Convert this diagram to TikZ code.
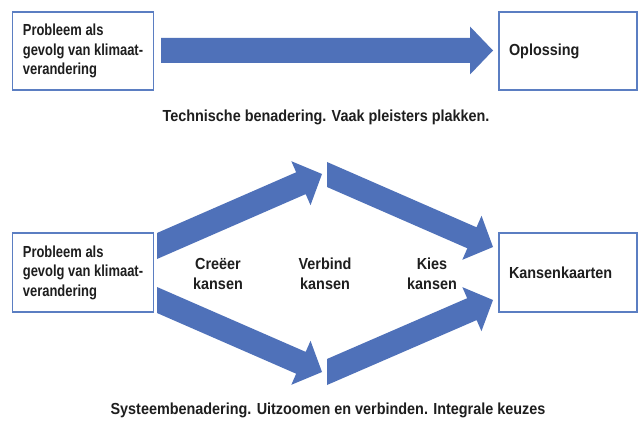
\documentclass[tikz,border=0pt]{standalone}
\usepackage{fontspec}
\setmainfont[FakeStretch=0.9]{Liberation Sans}
\newfontfamily\narrowfont[FakeStretch=0.81]{Liberation Sans}
\usetikzlibrary{calc}
\definecolor{arrowblue}{HTML}{4F71B9}
\definecolor{boxblue}{HTML}{5B7EC2}
\definecolor{txt}{HTML}{1E1E1E}
\newcommand\blockarrow[3]{% #1 tail top, #2 tail bottom, #3 tip
  \coordinate (fa-c) at ($(#1)!0.5!(#2)$);
  \coordinate (fa-b) at ($(#3)!23pt!(fa-c)$);
  \coordinate (fa-w1) at ($(fa-b)!24pt!90:(#3)$);
  \coordinate (fa-w2) at ($(fa-b)!24pt!-90:(#3)$);
  \fill[arrowblue] (#1) -- ($(fa-b)!(#1)!(fa-w1)$) -- (fa-w1) -- (#3) -- (fa-w2)
    -- ($(fa-b)!(#2)!(fa-w2)$) -- (#2) -- cycle;
}
\begin{document}
\begin{tikzpicture}[x=1pt,y=-1pt,
  txtfont/.style={font=\bfseries\fontsize{16}{19.5}\selectfont, text=txt},
  box/.style={draw=boxblue, line width=1.2pt, fill=white, minimum width=138pt,
    minimum height=78pt, inner xsep=10pt, inner ysep=6pt, align=left, txtfont},
  probfont/.style={font=\narrowfont\bfseries\fontsize{16}{19.5}\selectfont},
  rbox/.style={box, text width=118pt},
  lbl/.style={txtfont, align=center, inner sep=0pt},
  caption/.style={txtfont, inner sep=0pt}]
\useasboundingbox (0,0) rectangle (640,422);
\fill[white] (0,0) rectangle (640,422);

% top row
\node[box, probfont] (prob1) at (83,51) {Probleem als\\gevolg van klimaat-\\verandering};
\node[rbox] (opl) at (568,51) {Oplossing};
\coordinate (a0t) at (161,38);
\coordinate (a0b) at (161,63);
\coordinate (a0p) at (493,50.5);
\blockarrow{a0t}{a0b}{a0p}
\node[caption] (cap1) at (326,117) {Technische benadering. Vaak pleisters plakken.};

% bottom row
\node[box, probfont, minimum height=79pt] (prob2) at (83,272.5) {Probleem als\\gevolg van klimaat-\\verandering};
\node[rbox, minimum height=79pt] (kans) at (568,272.5) {Kansenkaarten};

\coordinate (a1t) at (157,233);
\coordinate (a1b) at (157,259);
\coordinate (a1p) at (322,174);
\blockarrow{a1t}{a1b}{a1p}

\coordinate (a2t) at (327,162);
\coordinate (a2b) at (327,187);
\coordinate (a2p) at (493,247);
\blockarrow{a2t}{a2b}{a2p}

\coordinate (a3t) at (157,287);
\coordinate (a3b) at (157,313);
\coordinate (a3p) at (322,372);
\blockarrow{a3t}{a3b}{a3p}

\coordinate (a4t) at (327,359);
\coordinate (a4b) at (327,385);
\coordinate (a4p) at (493,300);
\blockarrow{a4t}{a4b}{a4p}

\node[lbl] (creeer) at (218,274) {Creëer\\kansen};
\node[lbl] (verbind) at (325,274) {Verbind\\kansen};
\node[lbl] (kies) at (432,274) {Kies\\kansen};

\node[caption] (cap2) at (328,410) {Systeembenadering. Uitzoomen en verbinden. Integrale keuzes};
\end{tikzpicture}
\end{document}
